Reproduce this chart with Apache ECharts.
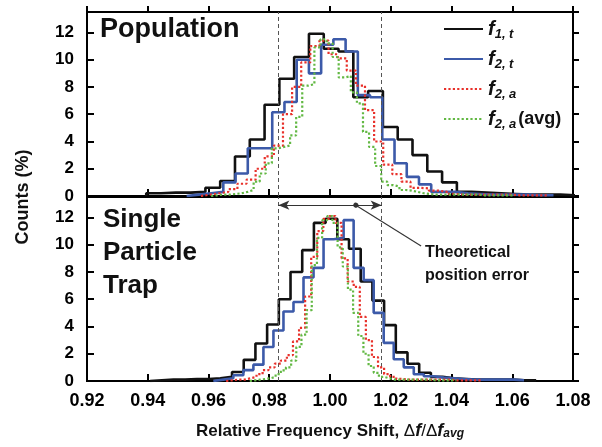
<!DOCTYPE html>
<html>
<head>
<meta charset="utf-8">
<script src="https://cdn.jsdelivr.net/npm/echarts@6/dist/echarts.min.js"></script>
<style>
  html, body { margin: 0; padding: 0; background: #fff; }
  #chart { width: 602px; height: 447px; }
</style>
</head>
<body>
<div id="chart"></div>
<script>
  // axis ranges
  const xMin = 0.92, xMax = 1.08, xStep = 0.02;
  const yMin = 0, yMax = 13.5, yStep = 2;
  // theoretical position error bounds and arrow level
  const errLow = 0.983, errHigh = 1.017;
  const arrowLevel = 12.9;
  const calloutFrom = [1.0085, 12.9];
  const calloutTo = [1.03, 9.9];

  // Population histograms: first bin edge, bin width, counts (%)
  const popF1tStart = 0.9395, popF1tWidth = 0.00487;
  const popF1tCounts = [0.2, 0.25, 0.25, 0.3, 0.6, 1.1, 2.9, 4.15, 6.7, 8.6, 10.2, 11.9, 10.8, 10.6, 7.25, 7.7, 5.06, 4.15, 3.0, 1.8, 1.0, 0.3, 0.25, 0.2, 0.15, 0.1, 0.1, 0.1, 0.05];
  const popF2tStart = 0.9528, popF2tWidth = 0.004026;
  const popF2tCounts = [0.1, 0.2, 0.3, 1.0, 1.65, 3.5, 3.5, 6.15, 6.9, 10.0, 9.0, 11.1, 11.5, 10.6, 7.4, 7.25, 4.15, 2.4, 1.4, 0.85, 0.3, 0.3, 0.2, 0.15, 0.1, 0.1, 0.1, 0.1, 0.05, 0.05];
  const popF2aStart = 0.95752, popF2aWidth = 0.003;
  const popF2aCounts = [0.1, 0.2, 0.3, 0.5, 0.9, 1.2, 2.0, 2.9, 3.7, 6.0, 8.0, 9.8, 11.0, 11.4, 10.4, 10.1, 9.2, 8.1, 6.3, 4.0, 2.3, 1.6, 1.05, 0.6, 0.56, 0.4, 0.3, 0.15, 0.1, 0.1, 0.1, 0.1, 0.1, 0.1, 0.05, 0.05, 0.05, 0.05];
  const popAvgStart = 0.96086, popAvgWidth = 0.002;
  const popAvgCounts = [0.05, 0.1, 0.1, 0.15, 0.2, 0.3, 0.44, 1.05, 1.65, 2.4, 3.5, 3.6, 3.7, 4.45, 5.8, 8.1, 8.2, 10.9, 11.5, 11.2, 10.2, 8.7, 8.8, 7.6, 6.8, 4.7, 3.6, 2.2, 1.05, 0.8, 0.7, 0.44, 0.4, 0.3, 0.2, 0.15, 0.1, 0.1, 0.1, 0.1, 0.1, 0.1, 0.1, 0.1, 0.05, 0.05, 0.05, 0.05, 0.05, 0.05];

  // Single particle trap histograms
  const spF1tStart = 0.94079, spF1tWidth = 0.003851;
  const spF1tCounts = [0.05, 0.1, 0.1, 0.15, 0.15, 0.2, 0.3, 0.66, 1.55, 2.75, 4.15, 6.0, 8.0, 9.6, 11.6, 11.9, 10.4, 9.7, 7.3, 5.9, 4.1, 2.1, 1.27, 0.6, 0.3, 0.2, 0.15, 0.1, 0.1, 0.1, 0.1, 0.05, 0.05];
  const spF2tStart = 0.96158, spF2tWidth = 0.0033;
  const spF2tCounts = [0.1, 0.2, 0.42, 0.8, 1.2, 2.5, 3.7, 5.1, 5.8, 7.6, 8.3, 10.4, 10.5, 11.8, 8.3, 7.4, 5.0, 2.8, 1.6, 1.0, 0.5, 0.35, 0.25, 0.2, 0.15, 0.1, 0.1, 0.1, 0.1, 0.1, 0.05];
  const spF2aStart = 0.96581, spF2aWidth = 0.002;
  const spF2aCounts = [0.05, 0.1, 0.1, 0.2, 0.3, 0.5, 0.8, 1.0, 1.27, 1.5, 1.9, 2.9, 3.9, 6.2, 9.1, 11.0, 11.9, 12.1, 11.6, 9.0, 7.3, 6.9, 4.7, 3.0, 1.76, 1.0, 0.5, 0.3, 0.15, 0.1, 0.1, 0.1, 0.1, 0.1, 0.1, 0.1, 0.1, 0.05, 0.05, 0.05, 0.05, 0.05];
  const spAvgStart = 0.9736, spAvgWidth = 0.0017;
  const spAvgCounts = [0.05, 0.1, 0.15, 0.2, 0.3, 0.5, 0.78, 1.0, 1.5, 2.5, 3.4, 5.2, 8.5, 10.5, 11.8, 12.1, 11.6, 9.8, 8.4, 6.7, 5.0, 3.3, 2.0, 1.1, 0.6, 0.3, 0.2, 0.1, 0.1, 0.1, 0.1, 0.1, 0.1, 0.1, 0.1, 0.05, 0.05, 0.05, 0.05, 0.05];

  const seriesNames = ['f1t', 'f2t', 'f2a', 'f2aavg'];
  const legendText = {
    f1t: '{f|f}{s|1, t}',
    f2t: '{f|f}{s|2, t}',
    f2a: '{f|f}{s|2, a}',
    f2aavg: '{f|f}{s|2, a}{p|(avg)}',
  };

  const FONT = 'Liberation Sans, Arial, sans-serif';

  // histogram -> step outline points
  function steps(start, width, counts) {
    const pts = [[start, 0]];
    counts.forEach((c, i) => pts.push([start + i * width, c]));
    pts.push([start + counts.length * width, 0]);
    return pts;
  }

  const styles = [
    { color: '#111111', width: 2.6, type: 'solid' },
    { color: '#3c5aa9', width: 2.6, type: 'solid' },
    { color: '#e8302a', width: 2.2, type: [2.2, 2.2] },
    { color: '#62b843', width: 2.2, type: [2.2, 2.2] },
  ];

  function hist(name, idx, axis, pts) {
    return {
      name: name,
      type: 'line',
      step: 'end',
      xAxisIndex: axis,
      yAxisIndex: axis,
      showSymbol: false,
      symbol: 'none',
      silent: true,
      data: pts,
      lineStyle: styles[idx],
      itemStyle: { color: styles[idx].color },
      z: 3 + idx,
    };
  }

  const boundLines = {
    silent: true,
    symbol: 'none',
    label: { show: false },
    lineStyle: { type: [4, 3], color: '#555', width: 1 },
    data: [
      [{ coord: [errLow, yMin] }, { coord: [errLow, yMax] }],
      [{ coord: [errHigh, yMin] }, { coord: [errHigh, yMax] }],
    ],
  };

  const popSeries = [
    hist('f1t', 0, 0, steps(popF1tStart, popF1tWidth, popF1tCounts)),
    hist('f2t', 1, 0, steps(popF2tStart, popF2tWidth, popF2tCounts)),
    hist('f2a', 2, 0, steps(popF2aStart, popF2aWidth, popF2aCounts)),
    hist('f2aavg', 3, 0, steps(popAvgStart, popAvgWidth, popAvgCounts)),
  ];
  popSeries[0].markLine = boundLines;

  const spSeries = [
    hist('f1t', 0, 1, steps(spF1tStart, spF1tWidth, spF1tCounts)),
    hist('f2t', 1, 1, steps(spF2tStart, spF2tWidth, spF2tCounts)),
    hist('f2a', 2, 1, steps(spF2aStart, spF2aWidth, spF2aCounts)),
    hist('f2aavg', 3, 1, steps(spAvgStart, spAvgWidth, spAvgCounts)),
  ];
  spSeries[0].markLine = boundLines;
  spSeries[1].markLine = {
    silent: true,
    label: { show: false },
    lineStyle: { type: 'solid', color: '#333', width: 1.1 },
    data: [
      [
        { coord: [errLow, arrowLevel], symbol: 'arrow', symbolSize: [7, 11] },
        { coord: [errHigh, arrowLevel], symbol: 'arrow', symbolSize: [7, 11] },
      ],
      [
        { coord: calloutFrom, symbol: 'circle', symbolSize: 5 },
        { coord: calloutTo, symbol: 'none' },
      ],
    ],
  };

  const gridLeft = 87, gridRight = 29;
  const grids = [
    { left: gridLeft, right: gridRight, top: 12, height: 184 },
    { left: gridLeft, right: gridRight, top: 197, height: 184 },
  ];

  function xAxisFor(g, inside, showLabel) {
    return {
      type: 'value', gridIndex: g, min: xMin, max: xMax, interval: xStep,
      axisLine: { show: true, onZero: false, lineStyle: { color: '#000', width: 2 } },
      axisTick: { show: true, inside: inside, length: inside ? 7 : 6, lineStyle: { color: '#000', width: 2 } },
      splitLine: { show: false },
      axisLabel: {
        show: showLabel, margin: 11, color: '#000', fontFamily: FONT, fontWeight: 'bold', fontSize: 18,
        formatter: (v) => v.toFixed(2),
      },
    };
  }
  function yAxisFor(g, inside, showLabel) {
    return {
      type: 'value', gridIndex: g, min: yMin, max: yMax, interval: yStep,
      axisLine: { show: true, onZero: false, lineStyle: { color: '#000', width: 2 } },
      axisTick: { show: true, inside: inside, length: inside ? 7 : 6, lineStyle: { color: '#000', width: 2 } },
      splitLine: { show: false },
      axisLabel: {
        show: showLabel, margin: 13, color: '#000', fontFamily: FONT, fontWeight: 'bold', fontSize: 17,
        showMaxLabel: false,
      },
    };
  }

  const xAxes = [xAxisFor(0, true, false), xAxisFor(1, true, true), xAxisFor(0, false, false), xAxisFor(1, false, false)];
  xAxes[1].name = '{b|Relative Frequency Shift, }{d|\u0394}{i|f}{d|/\u0394}{i|f}{sub|avg}';
  xAxes[1].nameLocation = 'middle';
  xAxes[1].nameGap = 41;
  xAxes[1].nameTextStyle = {
    color: '#000',
    rich: {
      b: { fontFamily: FONT, fontWeight: 'bold', fontSize: 17, color: '#111' },
      d: { fontFamily: FONT, fontSize: 17, color: '#111' },
      i: { fontFamily: FONT, fontWeight: 'bold', fontStyle: 'italic', fontSize: 18, color: '#111' },
      sub: { fontFamily: FONT, fontWeight: 'bold', fontStyle: 'italic', fontSize: 12, color: '#111', verticalAlign: 'bottom', lineHeight: 14 },
    },
  };
  const yAxes = [yAxisFor(0, true, true), yAxisFor(1, true, true), yAxisFor(0, false, false), yAxisFor(1, false, false)];

  const chart = echarts.init(document.getElementById('chart'), null, { renderer: 'canvas' });
  chart.setOption({
    animation: false,
    backgroundColor: '#fff',
    grid: grids.map((g) => Object.assign({ show: true, borderColor: '#000', borderWidth: 2, backgroundColor: 'transparent' }, g)),
    xAxis: xAxes,
    yAxis: yAxes,
    legend: {
      data: seriesNames,
      orient: 'vertical',
      left: 438,
      top: 14,
      itemWidth: 39,
      itemHeight: 14,
      itemGap: 8,
      selectedMode: false,
      itemStyle: { opacity: 0 },
      formatter: (name) => legendText[name],
      textStyle: {
        rich: {
          f: { fontFamily: FONT, fontWeight: 'bold', fontStyle: 'italic', fontSize: 20, color: '#111', lineHeight: 24 },
          s: { fontFamily: FONT, fontWeight: 'bold', fontStyle: 'italic', fontSize: 13, color: '#111', lineHeight: 15, verticalAlign: 'bottom' },
          p: { fontFamily: FONT, fontWeight: 'bold', fontSize: 18, color: '#111', lineHeight: 24, padding: [0, 0, 0, 2] },
        },
      },
    },
    graphic: [
      {
        type: 'text', left: 100, top: 16, silent: true,
        style: { text: 'Population', fill: '#111', font: 'bold 27px ' + FONT },
      },
      {
        type: 'text', left: 103, top: 203, silent: true,
        style: { text: 'Single\nParticle\nTrap', fill: '#111', font: 'bold 26px ' + FONT, lineHeight: 33 },
      },
      {
        type: 'text', left: 425, top: 241, silent: true,
        style: { text: 'Theoretical\nposition error', fill: '#111', font: 'bold 16px ' + FONT, lineHeight: 23 },
      },
      {
        type: 'text', x: 23, y: 197, rotation: Math.PI / 2, silent: true,
        style: { text: 'Counts (%)', fill: '#111', font: 'bold 18px ' + FONT, textAlign: 'center', textVerticalAlign: 'middle' },
      },
    ],
    series: popSeries.concat(spSeries),
  });
</script>
</body>
</html>
